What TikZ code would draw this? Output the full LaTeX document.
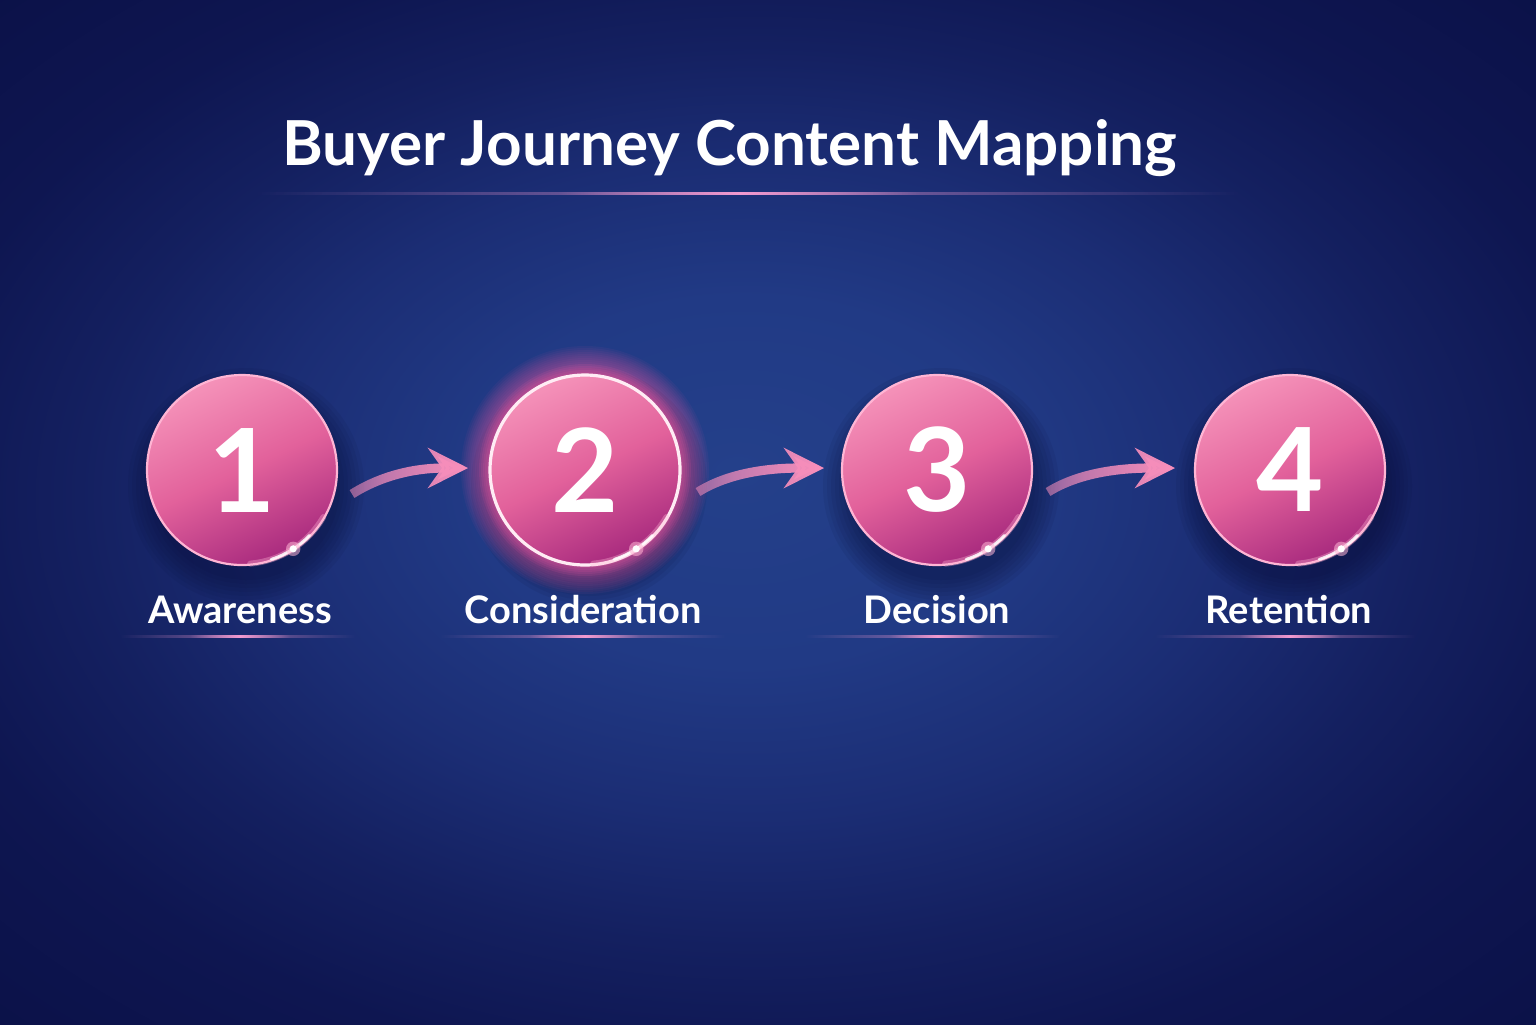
\documentclass[tikz,border=0pt]{standalone}
\usepackage{fontspec}
\setmainfont{Lato}
\usetikzlibrary{shadings,fadings,arrows.meta,calc}
\definecolor{bgc}{HTML}{24408A}
\definecolor{bgm}{HTML}{213A85}
\definecolor{bgd}{HTML}{1B2D74}
\definecolor{bgf}{HTML}{142060}
\definecolor{bge}{HTML}{0E1651}
\definecolor{bgx}{HTML}{0B1148}
\definecolor{pinkA}{HTML}{F592B9}
\definecolor{pinkB}{HTML}{E2619B}
\definecolor{pinkC}{HTML}{A82A7E}
\definecolor{rim}{HTML}{FFB5D4}
\definecolor{arrowc}{HTML}{F68EBB}
\definecolor{glowc}{HTML}{FF5FA8}
\definecolor{linec}{HTML}{F29AD0}
\definecolor{shadowc}{HTML}{080D36}
\pgfdeclareradialshading{bgshade}{\pgfpoint{-1bp}{2bp}}{color(0bp)=(bgc); color(9bp)=(bgm); color(16bp)=(bgd); color(22bp)=(bgf); color(28bp)=(bge); color(36bp)=(bgx)}
\pgfdeclarehorizontalshading{arrfadeshade}{100bp}{color(0bp)=(transparent!88); color(40bp)=(transparent!25); color(70bp)=(transparent!0); color(100bp)=(transparent!0)}
\pgfdeclarefading{arrfade}{\pgfuseshading{arrfadeshade}}
\tikzfading[name=fadeends, left color=transparent!100, right color=transparent!100, middle color=transparent!0]
\tikzset{
  ball/.style={circle, minimum size=95pt, inner sep=0pt,
    top color=pinkA, bottom color=pinkC, middle color=pinkB, shading angle=25,
    draw=rim, line width=1.1pt, text=white,
    font=\fontsize{58}{58}\selectfont\bfseries},
  stagelabel/.style={anchor=base, text=white, font=\fontsize{19}{19}\selectfont\bfseries},
  titlestyle/.style={anchor=base, text=white, font=\fontsize{31}{31}\selectfont\bfseries},
  flow/.style={draw=arrowc, line width=4.6pt, path fading=arrfade,
    -{Stealth[length=20pt,width=20pt,inset=7pt]}},
  glowline/.style={fill=linec, path fading=fadeends},
  spec/.style={draw=white, line width=1.4pt, line cap=round}
}
\begin{document}
\begin{tikzpicture}[x=0.5pt,y=-0.5pt]
\useasboundingbox (0,0) rectangle (1536,1024);
\shade[shading=bgshade] (0,0) rectangle (1536,1024);

% centres
\coordinate (p1) at (242,470);
\coordinate (p2) at (585,470);
\coordinate (p3) at (937,470);
\coordinate (p4) at (1290,470);

% shadows
\foreach \p in {p1,p2,p3,p4}{
  \foreach \r in {47,49,...,59}{
    \fill[shadowc, opacity=0.08] ($(\p)+(4,16)$) circle[radius=\r pt];
  }
}
% glow around 2
\foreach \r in {48,49,...,62}{
  \fill[glowc, opacity=0.05] (p2) circle[radius=\r pt];
}
\foreach \r in {48,49,...,53}{
  \fill[glowc, opacity=0.08] (p2) circle[radius=\r pt];
}

% title
\node[titlestyle] (title) at (730,165) {Buyer Journey Content Mapping};
\fill[glowline, opacity=0.55] (255,192) rectangle (1240,194.5);
\fill[glowline] (560,192) rectangle (920,194.5);

% balls
\node[ball] (c1) at (p1) {1};
\node[ball, draw=white!75!rim, line width=1.6pt] (c2) at (p2) {2};
\node[ball] (c3) at (p3) {3};
\node[ball] (c4) at (p4) {4};

% specular highlights on the rim (lower right); angles in the flipped xy system
\foreach \b in {c1,c2,c3,c4}{
  \path[spec, opacity=0.35, draw=rim, line width=3pt] ($(\b.center)+(85:94)$) arc[start angle=85, end angle=30, radius=94];
  \path[spec, opacity=0.85] ($(\b.center)+(72:94)$) arc[start angle=72, end angle=44, radius=94];
  \fill[rim, opacity=0.55] ($(\b.center)+(57:94)$) circle[radius=3.6pt];
  \fill[white] ($(\b.center)+(57:94)$) circle[radius=1.8pt];
}

% arrows
\draw[flow] ($(c1.center)+(110,24)$) .. controls +(35,-22) and +(-45,0) .. ($(c2.center)+(-117,-2)$);
\draw[flow] ($(c2.center)+(113,22)$) .. controls +(35,-22) and +(-45,0) .. ($(c3.center)+(-113,-2)$);
\draw[flow] ($(c3.center)+(111,22)$) .. controls +(35,-22) and +(-45,0) .. ($(c4.center)+(-115,-2)$);

% labels
\node[stagelabel] (l1) at (240,623) {Awareness};
\node[stagelabel] (l2) at (583,623) {Consideration};
\node[stagelabel] (l3) at (937,623) {Decision};
\node[stagelabel] (l4) at (1289,623) {Retention};

% label underlines
\fill[glowline, opacity=0.5] (120,635) rectangle (355,637.5);
\fill[glowline] (190,635) rectangle (290,637.5);
\fill[glowline, opacity=0.5] (440,635) rectangle (725,637.5);
\fill[glowline] (530,635) rectangle (640,637.5);
\fill[glowline, opacity=0.5] (805,635) rectangle (1060,637.5);
\fill[glowline] (890,635) rectangle (985,637.5);
\fill[glowline, opacity=0.5] (1155,635) rectangle (1415,637.5);
\fill[glowline] (1240,635) rectangle (1340,637.5);
\end{tikzpicture}
\end{document}
